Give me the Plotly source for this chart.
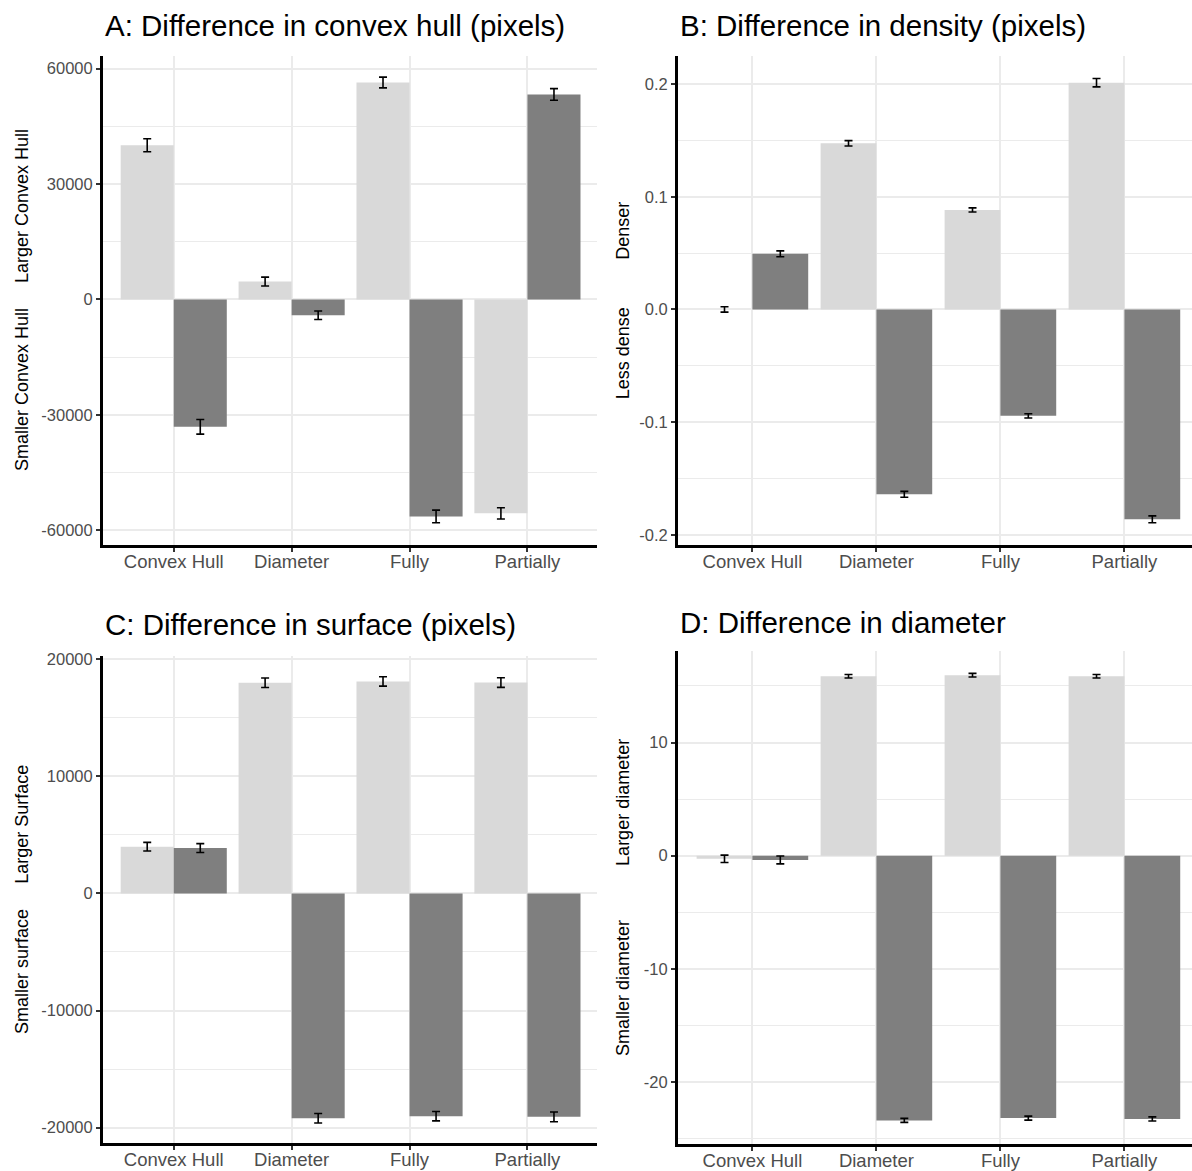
import plotly.graph_objects as go

# ---------------- data ----------------
categories = ["Convex Hull", "Diameter", "Fully", "Partially"]

hull_light = [40100, 4650, 56400, -55600]
hull_light_err = [1700, 1150, 1400, 1450]
hull_dark = [-33100, -4100, -56400, 53300]
hull_dark_err = [1900, 1100, 1650, 1500]

dens_light = [0.0, 0.1474, 0.0883, 0.2012]
dens_light_err = [0.0024, 0.0024, 0.0018, 0.0037]
dens_dark = [0.0494, -0.164, -0.0944, -0.1862]
dens_dark_err = [0.0026, 0.0026, 0.0019, 0.003]

surf_light = [3990, 17990, 18100, 18010]
surf_light_err = [370, 410, 400, 410]
surf_dark = [3870, -19200, -19020, -19080]
surf_dark_err = [380, 400, 400, 420]

diam_light = [-0.28, 15.86, 15.95, 15.86]
diam_light_err = [0.33, 0.16, 0.16, 0.16]
diam_dark = [-0.38, -23.4, -23.2, -23.27]
diam_dark_err = [0.35, 0.18, 0.18, 0.18]

hull_ticks = [-60000, -30000, 0, 30000, 60000]
hull_minor = [-45000, -15000, 15000, 45000]
dens_ticks = [-0.2, -0.1, 0.0, 0.1, 0.2]
dens_ticklabels = ["-0.2", "-0.1", "0.0", "0.1", "0.2"]
dens_minor = [-0.15, -0.05, 0.05, 0.15]
surf_ticks = [-20000, -10000, 0, 10000, 20000]
surf_minor = [-15000, -5000, 5000, 15000]
diam_ticks = [-20, -10, 0, 10]
diam_minor = [-25, -15, -5, 5, 15]

titles = ["A: Difference in convex hull (pixels)", "B: Difference in density (pixels)",
          "C: Difference in surface (pixels)", "D: Difference in diameter"]
ylab_pos = ["Larger Convex Hull", "Denser", "Larger Surface", "Larger diameter"]
ylab_neg = ["Smaller Convex Hull", "Less dense", "Smaller surface", "Smaller diameter"]

# ---------------- style ----------------
W, H = 1192, 1171
LIGHT = "#D9D9D9"
DARK = "#7F7F7F"
GRID = "#EBEBEB"
FONT = "Liberation Sans, Arial, sans-serif"

def px_x(v):
    return v / W

def px_y(v):
    return 1 - v / H

panels = [
    dict(light=hull_light, le=hull_light_err, dark=hull_dark, de=hull_dark_err,
         ticks=hull_ticks, labels=[str(t) for t in hull_ticks], minor=hull_minor,
         yr=[-63880, 63360], xd=[103, 597], yd=[542, 50], xr=[-0.6, 3.59],
         title_xy=(103, 20), lab_x=22, pos_y=201, neg_y=386),
    dict(light=dens_light, le=dens_light_err, dark=dens_dark, de=dens_dark_err,
         ticks=dens_ticks, labels=dens_ticklabels, minor=dens_minor,
         yr=[-0.2092, 0.2251], xd=[678, 1192], yd=[542, 50], xr=[-0.6, 3.545],
         title_xy=(678, 20), lab_x=623, pos_y=226, neg_y=349),
    dict(light=surf_light, le=surf_light_err, dark=surf_dark, de=surf_dark_err,
         ticks=surf_ticks, labels=[str(t) for t in surf_ticks], minor=surf_minor,
         yr=[-21325, 20306], xd=[103, 597], yd=[1143, 653], xr=[-0.6, 3.59],
         title_xy=(103, 622), lab_x=22, pos_y=823, neg_y=971),
    dict(light=diam_light, le=diam_light_err, dark=diam_dark, de=diam_dark_err,
         ticks=diam_ticks, labels=[str(t) for t in diam_ticks], minor=diam_minor,
         yr=[-25.5, 18.12], xd=[678, 1192], yd=[1144, 648], xr=[-0.6, 3.545],
         title_xy=(678, 620), lab_x=623, pos_y=801, neg_y=987),
]

fig = go.Figure()
annotations = []
layout = {}

for i, p in enumerate(panels):
    n = "" if i == 0 else str(i + 1)
    xa, ya = "x" + n, "y" + n
    for vals, errs, col in [(p["light"], p["le"], LIGHT), (p["dark"], p["de"], DARK)]:
        fig.add_trace(go.Bar(
            x=categories, y=vals, xaxis=xa, yaxis=ya,
            marker=dict(color=col, line=dict(width=0)),
            error_y=dict(type="data", array=errs, visible=True,
                         color="black", thickness=1.6, width=4),
            showlegend=False, hoverinfo="skip"))
    layout["xaxis" + n] = dict(
        domain=[px_x(p["xd"][0]), px_x(p["xd"][1])], anchor=ya,
        type="category", range=p["xr"],
        showline=True, linewidth=3, linecolor="black",
        ticks="outside", ticklen=4, tickwidth=1.5, tickcolor="#333333",
        showgrid=True, gridcolor=GRID, gridwidth=1.5,
        ticklabelstandoff=-6,
        tickfont=dict(family=FONT, size=18.5, color="#4D4D4D"),
        zeroline=False, fixedrange=True)
    layout["yaxis" + n] = dict(
        domain=[px_y(p["yd"][0]), px_y(p["yd"][1])], anchor=xa,
        range=p["yr"], tickmode="array", tickvals=p["ticks"], ticktext=p["labels"],
        showline=True, linewidth=3, linecolor="black",
        ticks="outside", ticklen=4, tickwidth=1.5, tickcolor="#333333",
        showgrid=True, gridcolor=GRID, gridwidth=1.5,
        minor=dict(tickvals=p["minor"], showgrid=True, gridcolor=GRID, gridwidth=1, ticks=""),
        tickfont=dict(family=FONT, size=16.5, color="#4D4D4D"),
        zeroline=False, fixedrange=True)
    annotations.append(dict(
        text=titles[i], xref="paper", yref="paper",
        x=px_x(p["title_xy"][0]), y=px_y(p["title_xy"][1]),
        xanchor="left", yanchor="middle", showarrow=False,
        font=dict(family=FONT, size=29.5, color="black")))
    for txt, yy in [(ylab_pos[i], p["pos_y"]), (ylab_neg[i], p["neg_y"])]:
        annotations.append(dict(
            text=txt, xref="paper", yref="paper",
            x=px_x(p["lab_x"]), y=px_y(yy), textangle=-90,
            xanchor="center", yanchor="middle", showarrow=False,
            font=dict(family=FONT, size=18, color="black")))

fig.update_layout(
    width=W, height=H, margin=dict(l=0, r=0, t=0, b=0),
    paper_bgcolor="white", plot_bgcolor="white",
    barmode="group", bargap=0.1, bargroupgap=0,
    showlegend=False, annotations=annotations,
    font=dict(family=FONT), **layout)

fig.write_html("out.html", config={"displayModeBar": False},
               post_script="document.body.style.margin='0';document.body.style.overflow='hidden';")
